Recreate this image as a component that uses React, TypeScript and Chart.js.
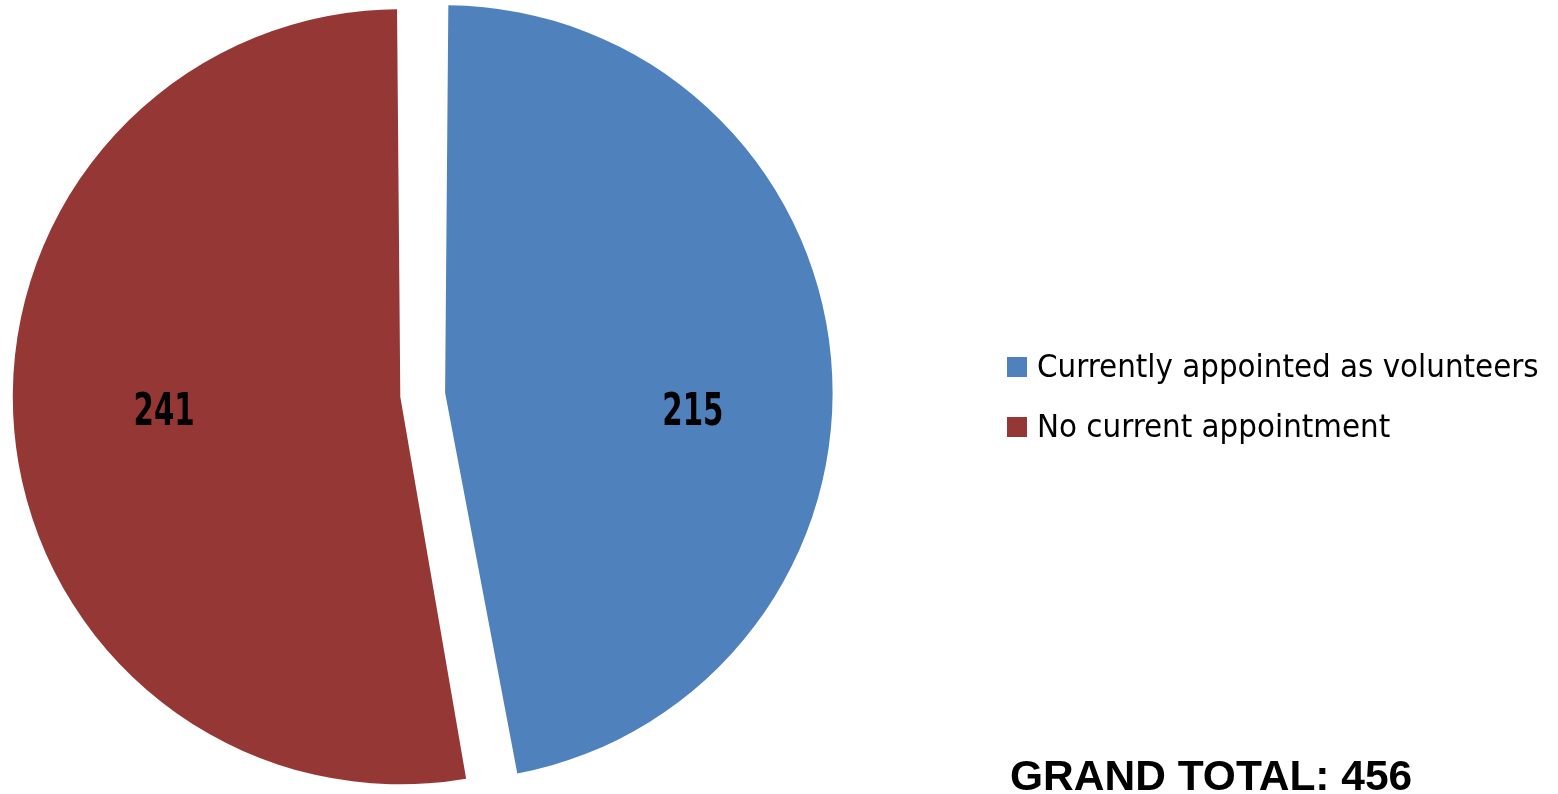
import React, { useEffect, useRef } from "react";
import { Chart, registerables } from "chart.js";

Chart.register(...registerables);

const categories: string[] = ["Currently appointed as volunteers", "No current appointment"];
const values: number[] = [215, 241];
const colors: string[] = ["#4F81BD", "#953735"];
const totalLabel = "GRAND TOTAL: 456";

const COND = '"DejaVu Sans Condensed", "Liberation Sans Narrow", "DejaVu Sans", sans-serif';

const labelPlugin = {
  id: "sliceLabels",
  afterDatasetsDraw(chart: any) {
    const ctx = chart.ctx;
    const meta = chart.getDatasetMeta(0);
    ctx.save();
    ctx.font = `bold 44px ${COND}`;
    ctx.fillStyle = "#000000";
    ctx.textAlign = "center";
    ctx.textBaseline = "middle";
    meta.data.forEach((arc: any, i: number) => {
      const p = arc.getProps(["x", "y", "startAngle", "endAngle", "outerRadius"], true);
      const mid = (p.startAngle + p.endAngle) / 2;
      const lx = p.x + Math.cos(mid) * p.outerRadius * 0.723 + 8;
      const ly = p.y + 19;
      ctx.save();
      ctx.translate(lx, ly);
      ctx.scale(0.74, 1);
      ctx.fillText(String(values[i]), 0, 0);
      ctx.restore();
    });
    ctx.restore();
  },
};

export default function App() {
  const ref = useRef<HTMLCanvasElement | null>(null);
  useEffect(() => {
    document.body.style.margin = "0";
    const chart = new Chart(ref.current as HTMLCanvasElement, {
      type: "pie",
      data: {
        labels: categories,
        datasets: [
          {
            data: values,
            backgroundColor: colors,
            borderWidth: 0,
            offset: [98.8, 81.2],
            hoverOffset: 0,
            radius: 367.2,
          } as any,
        ],
      },
      options: {
        responsive: false,
        animation: false,
        layout: { padding: { left: 0, right: 717, top: 0, bottom: 4 } },
        plugins: {
          legend: { display: false },
          tooltip: { enabled: false },
        },
      } as any,
      plugins: [labelPlugin],
    });
    return () => chart.destroy();
  }, []);

  return (
    <div style={{ position: "fixed", left: 0, top: 0, width: 1558, height: 794, background: "#ffffff" }}>
      <canvas ref={ref} width={1558} height={794} style={{ position: "absolute", left: 0, top: 0, width: 1558, height: 794 }} />
      {categories.map((c, i) => (
        <div
          key={c}
          style={{
            position: "absolute",
            left: 1007,
            top: 346 + i * 60,
            height: 40,
            display: "flex",
            alignItems: "center",
            whiteSpace: "nowrap",
          }}
        >
          <span style={{ display: "inline-block", width: 20, height: 20, background: colors[i], marginRight: 10, marginTop: 2 }} />
          <span style={{ fontFamily: COND, fontSize: 32.7, color: "#000", lineHeight: "40px" }}>{c}</span>
        </div>
      ))}
      <div
        style={{
          position: "absolute",
          left: 1010,
          top: 752,
          fontFamily: '"Liberation Sans", Arial, sans-serif',
          fontWeight: "bold",
          fontSize: 42.5,
          lineHeight: "48px",
          color: "#000",
          whiteSpace: "nowrap",
        }}
      >
        {totalLabel}
      </div>
    </div>
  );
}
